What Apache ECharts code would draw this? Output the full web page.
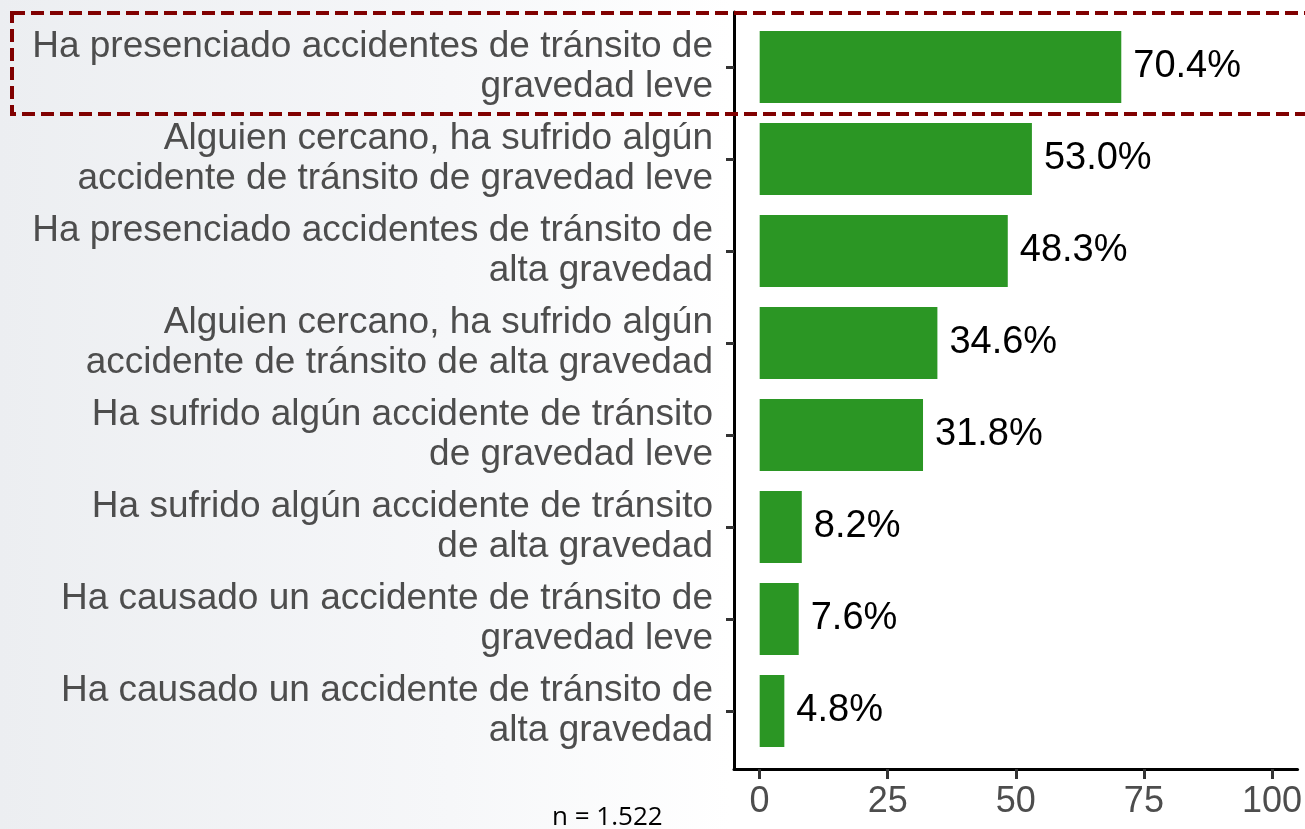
<!DOCTYPE html>
<html>
<head>
<meta charset="utf-8">
<script src="https://cdn.jsdelivr.net/npm/echarts@6/dist/echarts.min.js"></script>
<style>
  html, body { margin: 0; padding: 0; }
  body { background: linear-gradient(to right, #eceef1 0px, #f6f7f9 450px, #ffffff 730px); }
  #chart { width: 1305px; height: 829px; }
</style>
</head>
<body>
<div id="chart"></div>
<script>
const categories = [
  "Ha presenciado accidentes de tránsito de\ngravedad leve",
  "Alguien cercano, ha sufrido algún\naccidente de tránsito de gravedad leve",
  "Ha presenciado accidentes de tránsito de\nalta gravedad",
  "Alguien cercano, ha sufrido algún\naccidente de tránsito de alta gravedad",
  "Ha sufrido algún accidente de tránsito\nde gravedad leve",
  "Ha sufrido algún accidente de tránsito\nde alta gravedad",
  "Ha causado un accidente de tránsito de\ngravedad leve",
  "Ha causado un accidente de tránsito de\nalta gravedad"
];
const percentages = [70.4, 53.0, 48.3, 34.6, 31.8, 8.2, 7.6, 4.8];
const xTicks = [0, 25, 50, 75, 100];
const sampleNote = "n = 1.522";

const FONT = "'Liberation Sans', Arial, sans-serif";
const chart = echarts.init(document.getElementById("chart"), undefined, { renderer: "canvas" });

chart.setOption({
  backgroundColor: "transparent",
  animation: false,
  grid: [
    // bars: category band spans the expanded area like ggplot
    { left: 734, right: 6, top: 21, bottom: 72, containLabel: false },
    // frame: axis lines and value ticks
    { left: 734, right: 6, top: 12, bottom: 60, containLabel: false, backgroundColor: "#ffffff", show: true, borderWidth: 0, z: 0 }
  ],
  xAxis: [
    {
      gridIndex: 0, type: "value", min: -5, max: 105,
      axisLine: { show: false }, axisTick: { show: false },
      axisLabel: { show: false }, splitLine: { show: false }
    },
    {
      gridIndex: 1, type: "value", min: -5, max: 105,
      axisLine: { show: true, onZero: false, lineStyle: { color: "#000", width: 3 } },
      axisTick: { show: true, customValues: xTicks, length: 10, lineStyle: { color: "#333", width: 3 } },
      axisLabel: {
        show: true, customValues: xTicks, margin: 15,
        color: "#4d4d4d", fontSize: 36, fontFamily: FONT
      },
      splitLine: { show: false }
    }
  ],
  yAxis: [
    {
      gridIndex: 0, type: "category", data: categories, inverse: true,
      axisLine: { show: false, onZero: false },
      axisTick: { show: true, alignWithLabel: true, length: 8, lineStyle: { color: "#333", width: 3 } },
      axisLabel: {
        margin: 21, color: "#4d4d4d", fontSize: 37, lineHeight: 40,
        fontFamily: FONT, align: "right"
      }
    },
    {
      gridIndex: 1, type: "value", min: 0, max: 1,
      axisLine: { show: true, onZero: false, lineStyle: { color: "#000", width: 3 } },
      axisTick: { show: false }, axisLabel: { show: false }, splitLine: { show: false }
    }
  ],
  series: [
    {
      type: "bar",
      xAxisIndex: 0, yAxisIndex: 0,
      data: percentages,
      barWidth: 72,
      itemStyle: { color: "#2b9624" },
      label: {
        show: true, position: "right", distance: 12,
        color: "#000", fontSize: 38, fontFamily: FONT,
        formatter: (p) => p.value.toFixed(1) + "%"
      },
      z: 3
    }
  ],
  graphic: [
    {
      type: "rect",
      shape: { x: 12, y: 13, width: 1310, height: 101 },
      style: { fill: "none", stroke: "#800000", lineWidth: 4, lineDash: [13, 6] },
      z: 100
    },
    {
      type: "text",
      left: 552, top: 805,
      style: { text: sampleNote, fill: "#000", fontSize: 26, fontFamily: "'Open Sans', 'Liberation Sans', sans-serif" }
    }
  ]
});
</script>
</body>
</html>
